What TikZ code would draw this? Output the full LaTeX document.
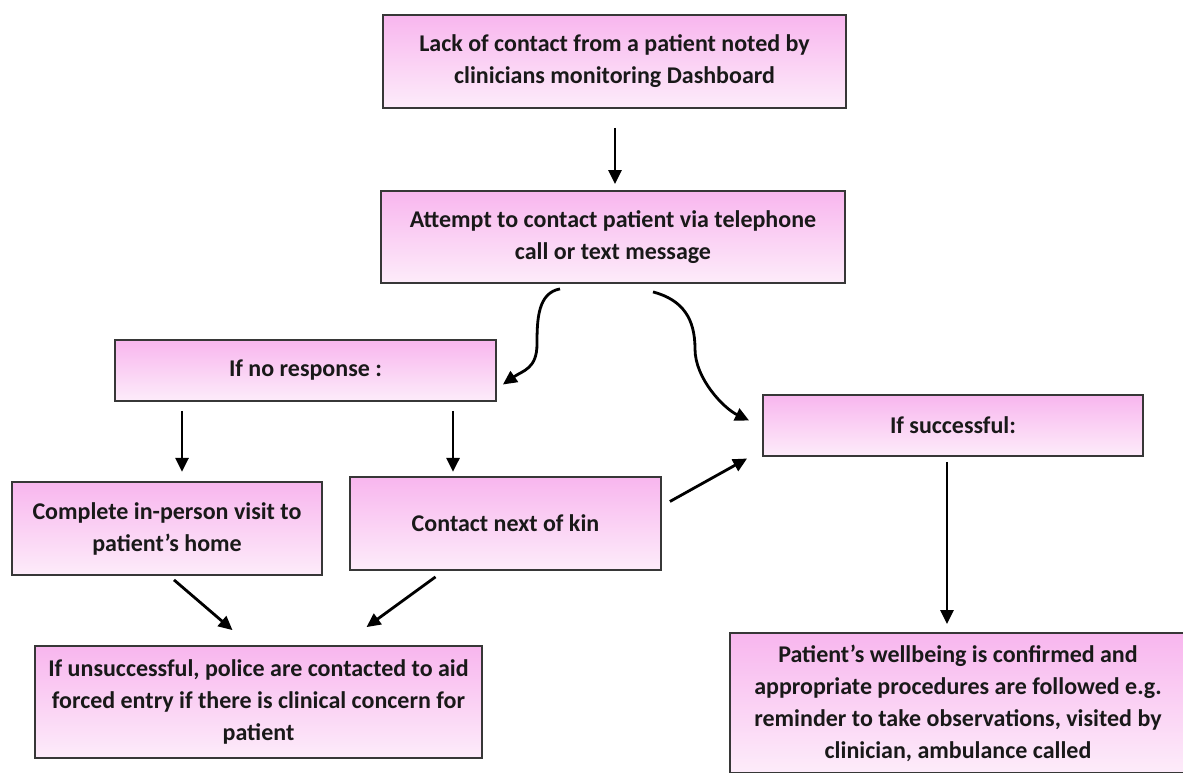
\documentclass[tikz,border=0pt]{standalone}
\usepackage{fontspec}
\setmainfont{Carlito}
\usetikzlibrary{arrows.meta,calc}
\definecolor{pinktop}{RGB}{248,182,238}
\definecolor{pinkbot}{RGB}{253,236,250}
\definecolor{boxline}{RGB}{55,55,55}
\definecolor{txt}{RGB}{25,25,25}
\tikzset{
  flowbox/.style={draw=boxline, line width=1.8pt, top color=pinktop, bottom color=pinkbot,
    shading angle=0, inner sep=0pt, align=center, text=txt,
    font=\fontsize{24}{32}\selectfont\bfseries},
  arr/.style={line width=2.8pt, black, -{Triangle[length=14pt,width=13pt]}},
}
\begin{document}
\begin{tikzpicture}[x=1pt,y=-1pt]
\useasboundingbox (0,0) rectangle (1183,772);
\clip (0,0) rectangle (1183,772);
\node[flowbox, minimum width=463pt, minimum height=93pt] (A) at (614.5,61.5)
  {Lack of contact from a patient noted by\\clinicians monitoring Dashboard};
\node[flowbox, minimum width=464pt, minimum height=92pt] (B) at (613,237)
  {Attempt to contact patient via telephone\\call or text message};
\node[flowbox, minimum width=381pt, minimum height=61pt] (C) at (305.5,370.5)
  {If no response :};
\node[flowbox, minimum width=380pt, minimum height=61pt] (D) at (953,425.5)
  {If successful:};
\node[flowbox, minimum width=310pt, minimum height=93pt] (E) at (167,528.5)
  {Complete in-person visit to\\patient’s home};
\node[flowbox, minimum width=311pt, minimum height=93pt] (F) at (505.5,523.5)
  {Contact next of kin};
\node[flowbox, minimum width=447pt, minimum height=112pt] (G) at (258.5,702)
  {If unsuccessful, police are contacted to aid\\forced entry if there is clinical concern for\\patient};
\node[flowbox, minimum width=456pt, minimum height=140pt] (H) at (958,703)
  {Patient’s wellbeing is confirmed and\\appropriate procedures are followed e.g.\\reminder to take observations, visited by\\clinician, ambulance called};

% straight arrows
\draw[arr] ($(A.south)+(0.5,19)$) -- ($(B.north)+(2,-6)$);
\draw[arr] ($(C.south)+(-123.5,9)$) -- ($(C.south)+(-123.5,70)$);
\draw[arr] ($(C.south)+(147.5,9)$) -- ($(C.south)+(147.5,70)$);
\draw[arr] ($(F.east)+(8,-22)$) -- ($(D.west)+(-15,33)$);
\draw[arr] ($(E.south)+(7,4)$) -- ($(G.north)+(-26,-15)$);
\draw[arr] ($(F.south)+(-70,6)$) -- ($(G.north)+(108,-18)$);
\draw[arr] ($(D.south)+(-6,5)$) -- ($(H.north)+(-11,-8)$);

% curved arrows
\draw[arr] ($(B.south)+(-53,5)$) .. controls +(-22,4) and +(0,-25) .. ($(B.south)+(-76,60)$)
   .. controls +(0,25) and +(20,-14) .. ($(C.east)+(6,14)$);
\draw[arr] ($(B.south)+(40,8)$) .. controls +(30,8) and +(0,-30) .. ($(B.south)+(82,65)$)
   .. controls +(0,30) and +(-25,-12) .. ($(D.west)+(-13,-5)$);
\end{tikzpicture}
\end{document}
